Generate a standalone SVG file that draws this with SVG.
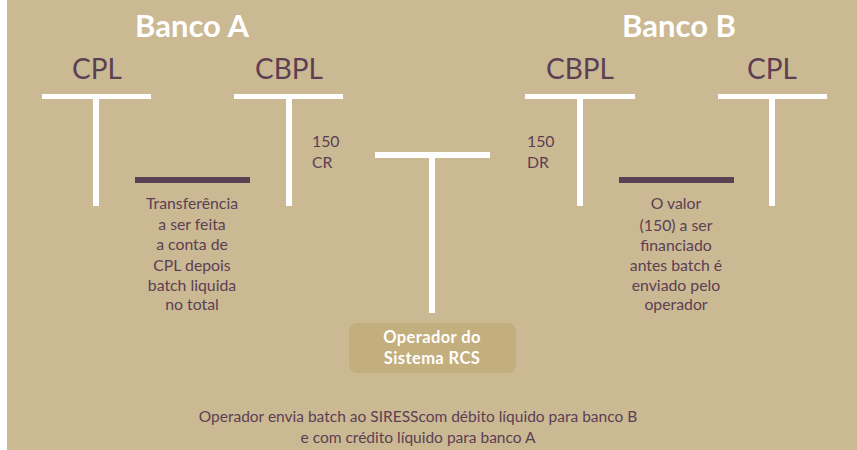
<svg xmlns="http://www.w3.org/2000/svg" width="857" height="450" viewBox="0 0 857 450">
<style>
.bg{fill:#cbb993}
.w{fill:#ffffff}
.dk{fill:#5b4054}
.title{font-family:Lato,"Liberation Sans",sans-serif;font-weight:bold;font-size:31px;fill:#ffffff;text-anchor:middle}
.acct{font-family:Lato,"Liberation Sans",sans-serif;font-size:28px;fill:#5b4054;text-anchor:middle}
.t{font-family:Lato,"Liberation Sans",sans-serif;font-size:15.8px;fill:#5b4054}
.b{font-size:15.5px}
.c{text-anchor:middle}
.op{font-family:Lato,"Liberation Sans",sans-serif;font-weight:bold;font-size:16.5px;letter-spacing:0.4px;fill:#ffffff;text-anchor:middle}
</style>
<rect class="bg" x="7" y="0" width="850" height="450"/>
<text class="title" x="192" y="37">Banco A</text>
<text class="title" x="679" y="37">Banco B</text>
<g id="a-cpl">
<text class="acct" x="97" y="79">CPL</text>
<rect class="w" x="42" y="94" width="109" height="5"/>
<rect class="w" x="93" y="99" width="6" height="107"/>
</g>
<g id="a-cbpl">
<text class="acct" x="289" y="79">CBPL</text>
<rect class="w" x="234" y="94" width="109" height="5"/>
<rect class="w" x="286" y="99" width="6" height="107"/>
<text class="t" x="312" y="147">150</text>
<text class="t" x="312" y="168">CR</text>
</g>
<g id="a-transfer">
<rect class="dk" x="135" y="177" width="115" height="6"/>
<text class="t c" x="192"><tspan x="192" y="209">Transferência</tspan><tspan x="192" y="230">a ser feita</tspan><tspan x="192" y="250">a conta de</tspan><tspan x="192" y="271">CPL depois</tspan><tspan x="192" y="291">batch liquida</tspan><tspan x="192" y="310">no total</tspan></text>
</g>
<g id="operador">
<rect class="w" x="375" y="152" width="115" height="6"/>
<rect class="w" x="429" y="158" width="6" height="155"/>
<rect x="349" y="323" width="167" height="50" rx="8" fill="#c3ae7e"/>
<text class="op" x="432" y="343">Operador do</text>
<text class="op" x="432" y="364">Sistema RCS</text>
</g>
<g id="b-cbpl">
<text class="acct" x="580" y="79">CBPL</text>
<rect class="w" x="525" y="94" width="110" height="5"/>
<rect class="w" x="577" y="99" width="6" height="107"/>
<text class="t" x="527" y="147">150</text>
<text class="t" x="527" y="168">DR</text>
</g>
<g id="b-cpl">
<text class="acct" x="772" y="79">CPL</text>
<rect class="w" x="718" y="94" width="109" height="5"/>
<rect class="w" x="769" y="99" width="6" height="107"/>
</g>
<g id="b-valor">
<rect class="dk" x="619" y="177" width="115" height="6"/>
<text class="t c" x="676"><tspan x="676" y="209">O valor</tspan><tspan x="676" y="231">(150) a ser</tspan><tspan x="676" y="251">financiado</tspan><tspan x="676" y="271">antes batch é</tspan><tspan x="676" y="291">enviado pelo</tspan><tspan x="676" y="310">operador</tspan></text>
</g>
<g id="connectors"></g>
<text class="t b c" x="418" y="422">Operador envia batch ao SIRESScom débito líquido para banco B</text>
<text class="t b c" x="418" y="443">e com crédito líquido para banco A</text>
</svg>
